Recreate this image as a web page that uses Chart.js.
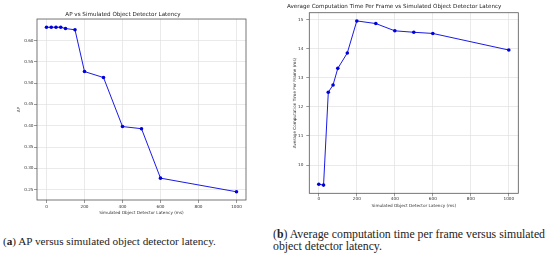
<!DOCTYPE html>
<html lang="en">
<head>
  <meta charset="UTF-8" />
  <title>Simulated Object Detector Latency</title>
  <script src="https://cdn.jsdelivr.net/npm/chart.js"></script>
  <style>
    body {
      margin: 0;
      width: 550px;
      height: 257px;
      background: #ffffff;
      position: relative;
      overflow: hidden;
    }
    #apChart, #timeChart {
      position: absolute;
      top: 0;
    }
    #apChart { left: 0; }
    #timeChart { left: 270px; }
    .caption {
      position: absolute;
      font-family: 'Liberation Serif', 'DejaVu Serif', serif;
      color: #222;
      white-space: nowrap;
    }
    .caption b { font-weight: bold; }
  </style>
</head>
<body>
  <canvas id="apChart" width="265" height="218"></canvas>
  <canvas id="timeChart" width="280" height="218"></canvas>

  <div class="caption" style="left:3px; top:235px; font-size:11.2px; line-height:12px;">(<b>a</b>) AP versus simulated object detector latency.</div>
  <div class="caption" style="left:273px; top:228px; font-size:11.8px; line-height:12px;">(<b>b</b>) Average computation time per frame versus simulated<br>object detector latency.</div>

  <script>
    // latency values (ms) shared by both plots
    const latency = [0, 25, 50, 75, 100, 150, 200, 300, 400, 500, 600, 1000];
    const apValues = [0.631, 0.631, 0.631, 0.631, 0.628, 0.625, 0.527, 0.513, 0.398, 0.393, 0.277, 0.245];
    const timeValues = [9.34, 9.31, 12.50, 12.75, 13.32, 13.85, 14.95, 14.86, 14.61, 14.56, 14.52, 13.95];

    const xTicks = [0, 200, 400, 600, 800, 1000];
    const apTicks = [0.25, 0.30, 0.35, 0.40, 0.45, 0.50, 0.55, 0.60];
    const timeTicks = [10, 11, 12, 13, 14, 15];

    const FONT = "'DejaVu Sans', sans-serif";

    // matplotlib-style 5% margins
    function padRange(arr) {
      const lo = Math.min(...arr), hi = Math.max(...arr);
      const m = (hi - lo) * 0.05;
      return [lo - m, hi + m];
    }

    const frame = {
      id: 'frame',
      afterDraw(chart) {
        const a = chart.chartArea;
        const ctx = chart.ctx;
        ctx.save();
        ctx.strokeStyle = '#555';
        ctx.lineWidth = 0.8;
        ctx.strokeRect(a.left, a.top, a.right - a.left, a.bottom - a.top);
        ctx.restore();
      }
    };

    function makeChart(id, opts) {
      const [xmin, xmax] = padRange(latency);
      const [ymin, ymax] = padRange(opts.values);
      return new Chart(document.getElementById(id), {
        type: 'line',
        data: {
          datasets: [{
            data: latency.map((x, i) => ({ x: x, y: opts.values[i] })),
            borderColor: '#1a1ae6',
            backgroundColor: '#0000dd',
            borderWidth: 1,
            pointRadius: 1.8,
            pointBorderWidth: 0,
            tension: 0
          }]
        },
        options: {
          responsive: false,
          animation: false,
          layout: { padding: { left: 0, right: opts.padRight, top: 0, bottom: 0 } },
          plugins: {
            legend: { display: false },
            tooltip: { enabled: false },
            title: {
              display: true,
              text: opts.title,
              color: '#222',
              font: { family: FONT, size: 5.6, weight: 'normal' },
              padding: { top: opts.titleTop, bottom: opts.titleBottom }
            }
          },
          scales: {
            x: {
              type: 'linear',
              min: xmin,
              max: xmax,
              afterBuildTicks: s => { s.ticks = xTicks.map(v => ({ value: v })); },
              afterFit: s => { s.height = opts.xHeight; },
              border: { display: false },
              grid: { color: '#dcdcdc', lineWidth: 0.6, tickColor: '#555', tickLength: 3 },
              ticks: {
                color: '#333',
                font: { family: FONT, size: 4.2 },
                padding: opts.xTickPad,
                maxRotation: 0,
                callback: v => String(v)
              },
              title: {
                display: true,
                text: 'Simulated Object Detector Latency (ms)',
                color: '#333',
                font: { family: FONT, size: 4.2 },
                padding: { top: 0, bottom: opts.xTitlePad }
              }
            },
            y: {
              min: ymin,
              max: ymax,
              afterBuildTicks: s => { s.ticks = opts.ticks.map(v => ({ value: v })); },
              afterFit: s => { s.width = opts.yWidth; },
              border: { display: false },
              grid: { color: '#dcdcdc', lineWidth: 0.6, tickColor: '#555', tickLength: 3 },
              ticks: {
                color: '#333',
                font: { family: FONT, size: 4.2 },
                padding: opts.yTickPad,
                callback: v => opts.fmt(v)
              },
              title: {
                display: true,
                text: opts.yLabel,
                color: '#333',
                font: { family: FONT, size: 4.2 },
                padding: { top: opts.yTitlePad, bottom: 0 }
              }
            }
          }
        },
        plugins: [frame]
      });
    }

    makeChart('apChart', {
      values: apValues,
      ticks: apTicks,
      fmt: v => v.toFixed(2),
      title: 'AP vs Simulated Object Detector Latency',
      yLabel: 'AP',
      padRight: 19,
      titleTop: 11.3,
      titleBottom: 1.0,
      yWidth: 37,
      xHeight: 18,
      xTickPad: 1,
      xTitlePad: 2.8,
      yTickPad: 0.5,
      yTitlePad: 16.5
    });

    makeChart('timeChart', {
      values: timeValues,
      ticks: timeTicks,
      fmt: v => String(v),
      title: 'Average Computation Time Per Frame vs Simulated Object Detector Latency',
      yLabel: 'Average Computation Time Per Frame (ms)',
      padRight: 31.7,
      titleTop: 3.3,
      titleBottom: 2.7,
      yWidth: 39.3,
      xHeight: 24.7,
      xTickPad: 0.5,
      xTitlePad: 9.8,
      yTickPad: 3,
      yTitlePad: 22.5
    });
  </script>
</body>
</html>
